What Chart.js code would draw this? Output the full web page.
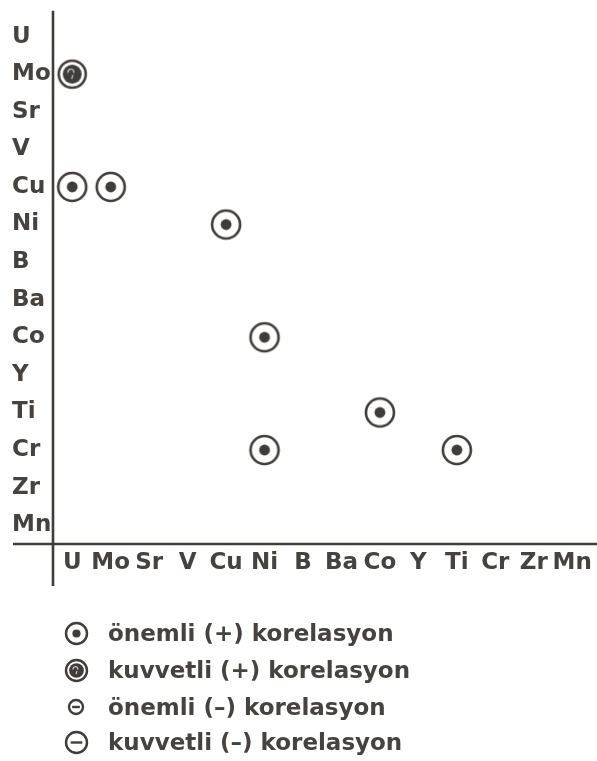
<!DOCTYPE html>
<html>
<head>
<meta charset="utf-8">
<script src="https://cdn.jsdelivr.net/npm/chart.js@4/dist/chart.umd.min.js"></script>
<style>
  html, body { margin: 0; padding: 0; background: #ffffff; }
  #wrap { position: relative; width: 597px; height: 761px; }
  #legend { position: absolute; left: 0; top: 0; width: 597px; height: 761px; pointer-events: none;
            font-family: "DejaVu Sans", sans-serif; font-weight: bold; font-size: 23px; color: #46423f; }
  .item { position: absolute; left: 61px; height: 30px; display: flex; align-items: center; }
  .item span { margin-left: 17px; white-space: nowrap; }
</style>
</head>
<body>
<div id="wrap">
  <canvas id="c"></canvas>
  <div id="legend"></div>
</div>
<script>
// ---- data ----
const rowLabels = ['U', 'Mo', 'Sr', 'V', 'Cu', 'Ni', 'B', 'Ba', 'Co', 'Y', 'Ti', 'Cr', 'Zr', 'Mn'];
const colLabels = ['U', 'Mo', 'Sr', 'V', 'Cu', 'Ni', 'B', 'Ba', 'Co', 'Y', 'Ti', 'Cr', 'Zr', 'Mn'];

// önemli (+) korelasyon
const sigPosX = ['U', 'Mo', 'Cu', 'Ni', 'Co', 'Ni', 'Ti'];
const sigPosY = ['Cu', 'Cu', 'Ni', 'Co', 'Ti', 'Cr', 'Cr'];
// kuvvetli (+) korelasyon
const strongPosX = ['U'];
const strongPosY = ['Mo'];
// önemli (-) korelasyon
const sigNegX = [];
const sigNegY = [];
// kuvvetli (-) korelasyon
const strongNegX = [];
const strongNegY = [];

const legendLabels = ['önemli (+) korelasyon', 'kuvvetli (+) korelasyon', 'önemli (–) korelasyon', 'kuvvetli (–) korelasyon'];

// ---- styles ----
const INK = '#403c39';
const TEXT = '#46423f';

function makeSymbol(kind, r, lw) {
  const s = Math.ceil(r * 2 + 6);
  const cv = document.createElement('canvas');
  cv.width = s; cv.height = s;
  const g = cv.getContext('2d');
  const c = s / 2;
  g.strokeStyle = INK; g.fillStyle = INK;
  g.lineWidth = lw;
  g.beginPath(); g.arc(c, c, r, 0, Math.PI * 2); g.stroke();
  if (kind === 'sigPos') {
    g.beginPath(); g.arc(c, c, r * 0.39, 0, Math.PI * 2); g.fill();
  } else if (kind === 'strongPos') {
    g.beginPath(); g.arc(c, c, r * 0.7, 0, Math.PI * 2); g.fill();
    g.strokeStyle = '#cfcac6'; g.lineWidth = 1.2;
    g.beginPath(); g.arc(c - r * 0.1, c - r * 0.15, r * 0.22, Math.PI * 0.9, Math.PI * 2.1); g.stroke();
    g.beginPath(); g.moveTo(c + r * 0.05, c + r * 0.05); g.lineTo(c - r * 0.05, c + r * 0.35); g.stroke();
  } else {
    g.beginPath(); g.moveTo(c - r * 0.55, c); g.lineTo(c + r * 0.55, c); g.stroke();
  }
  return cv;
}

const pts = (xs, ys) => xs.map((x, i) => ({ x: x, y: ys[i] }));

const axesPlugin = {
  id: 'axesLines',
  afterDraw(chart) {
    const { ctx, chartArea } = chart;
    ctx.save();
    ctx.strokeStyle = INK;
    ctx.lineWidth = 2.6;
    ctx.beginPath();
    ctx.moveTo(chartArea.left, chartArea.top - 7);
    ctx.lineTo(chartArea.left, chartArea.bottom + 42);
    ctx.stroke();
    ctx.beginPath();
    ctx.moveTo(chartArea.left - 40, chartArea.bottom);
    ctx.lineTo(chart.width, chartArea.bottom);
    ctx.stroke();
    ctx.restore();
  }
};

new Chart(document.getElementById('c'), {
  type: 'scatter',
  data: {
    datasets: [
      { label: legendLabels[0], data: pts(sigPosX, sigPosY), pointStyle: makeSymbol('sigPos', 14, 2.6) },
      { label: legendLabels[1], data: pts(strongPosX, strongPosY), pointStyle: makeSymbol('strongPos', 13.5, 2.6) },
      { label: legendLabels[2], data: pts(sigNegX, sigNegY), pointStyle: makeSymbol('sigNeg', 8, 2.4) },
      { label: legendLabels[3], data: pts(strongNegX, strongNegY), pointStyle: makeSymbol('strongNeg', 13, 2.6) }
    ]
  },
  options: {
    responsive: true,
    maintainAspectRatio: false,
    animation: false,
    events: [],
    layout: { padding: { left: 12, top: 12, right: 2, bottom: 0 } },
    plugins: { legend: { display: false }, tooltip: { enabled: false } },
    scales: {
      x: {
        type: 'category',
        labels: colLabels,
        offset: true,
        grid: { display: false, drawTicks: false },
        border: { display: false },
        ticks: {
          color: TEXT, autoSkip: false, maxRotation: 0, padding: 5,
          font: { family: 'DejaVu Sans', weight: 'bold', size: 23 }
        },
        afterFit(scale) { scale.height = 217; }
      },
      y: {
        type: 'category',
        labels: rowLabels,
        offset: true,
        grid: { display: false, drawTicks: false },
        border: { display: false },
        ticks: {
          color: TEXT, autoSkip: false, crossAlign: 'far', padding: 4,
          font: { family: 'DejaVu Sans', weight: 'bold', size: 23 }
        },
        afterFit(scale) { scale.width = 41; }
      }
    }
  },
  plugins: [axesPlugin]
});

// ---- legend (HTML text with drawn symbols) ----
const legendTops = [618, 655, 692, 727];
const legendKinds = ['sigPos', 'strongPos', 'sigNeg', 'strongNeg'];
const legendR = [10.5, 10.5, 7, 10.5];
const leg = document.getElementById('legend');
legendLabels.forEach((txt, i) => {
  const d = document.createElement('div');
  d.className = 'item';
  d.style.top = legendTops[i] + 'px';
  const cv = makeSymbol(legendKinds[i], legendR[i], 2.4);
  cv.style.width = cv.width + 'px'; cv.style.height = cv.height + 'px';
  const holder = document.createElement('div');
  holder.style.cssText = 'width:30px;height:30px;display:flex;align-items:center;justify-content:center;flex:none;';
  holder.appendChild(cv);
  const sp = document.createElement('span');
  sp.textContent = txt;
  d.appendChild(holder);
  d.appendChild(sp);
  leg.appendChild(d);
});
</script>
</body>
</html>
